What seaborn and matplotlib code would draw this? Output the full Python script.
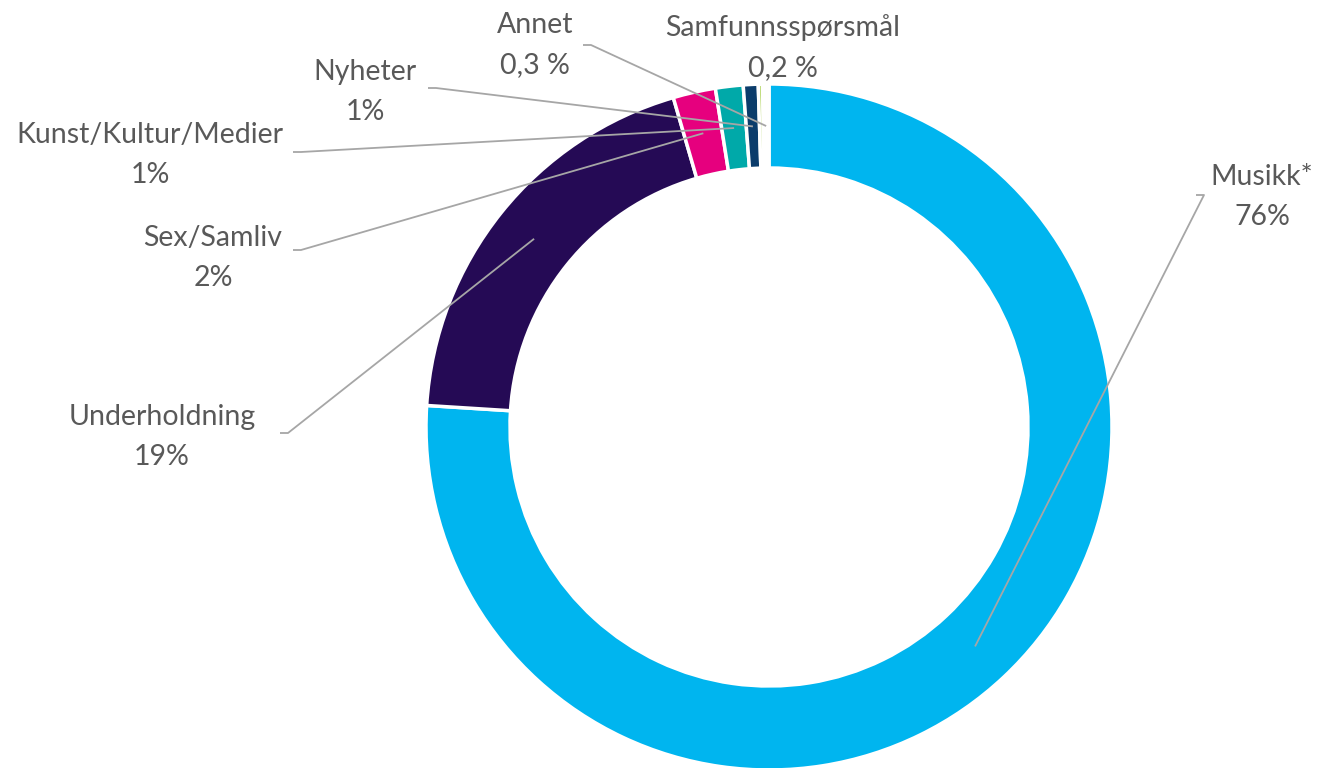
import numpy as np
import matplotlib
matplotlib.use("Agg")
import matplotlib.pyplot as plt
import seaborn as sns

categories = ["Musikk*", "Underholdning", "Sex/Samliv", "Kunst/Kultur/Medier",
              "Nyheter", "Samfunnsspørsmål", "Annet"]
values = [76.0, 19.5, 2.0, 1.3, 0.7, 0.2, 0.3]
value_labels = ["76%", "19%", "2%", "1%", "1%", "0,2 %", "0,3 %"]
colors = ["#00B5EF", "#250A55", "#E6007E", "#00A9A9", "#0B3C6B", "#A8D04A", "#FFFFFF"]

sns.set_theme(style="white")
plt.rcParams['font.family'] = ['Lato', 'DejaVu Sans']

W, H = 1335, 768
fig = plt.figure(figsize=(W / 100, H / 100), dpi=100)
ax = fig.add_axes([0, 0, 1, 1])
ax.set_xlim(0, W)
ax.set_ylim(0, H)
ax.set_aspect("equal")
ax.axis("off")

cx, cy = 769, H - 427
R = 343
width = 84
wedges, _ = ax.pie(values, colors=colors, startangle=90, counterclock=False,
                   center=(cx, cy), radius=R, frame=True,
                   wedgeprops=dict(width=width, edgecolor="white", linewidth=2.5))
ax.set_xlim(0, W)
ax.set_ylim(0, H)
ax.axis("off")

# label layout: (text center of first line), leader start, has_leader
layout = {
    "Musikk*": ((1262, 177), (1196, 195), True),
    "Underholdning": ((162, 417), (280, 433), True),
    "Sex/Samliv": ((213, 238), (293, 250), True),
    "Kunst/Kultur/Medier": ((150, 135), (293, 152), True),
    "Nyheter": ((365, 72), (428, 88), True),
    "Samfunnsspørsmål": ((783, 28), None, False),
    "Annet": ((535, 25), (583, 45), True),
}

txtcol = "#595959"
linecol = "#A6A6A6"
fs = 20.5
r_mid = R - width / 2
for w, cat, vl in zip(wedges, categories, value_labels):
    (tx, ty), start, has = layout[cat]
    ax.text(tx, H - ty, cat, ha="center", va="center", fontsize=fs, color=txtcol)
    ax.text(tx, H - ty - 40, vl, ha="center", va="center", fontsize=fs, color=txtcol)
    if has:
        ang = np.deg2rad((w.theta1 + w.theta2) / 2)
        ex, ey = cx + r_mid * np.cos(ang), cy + r_mid * np.sin(ang)
        sx, sy = start[0], H - start[1]
        ax.plot([sx, sx + 8, ex], [sy, sy, ey], color=linecol, lw=1.3,
                solid_capstyle="butt", zorder=5)

fig.savefig("out.png", dpi=100, facecolor="white")
